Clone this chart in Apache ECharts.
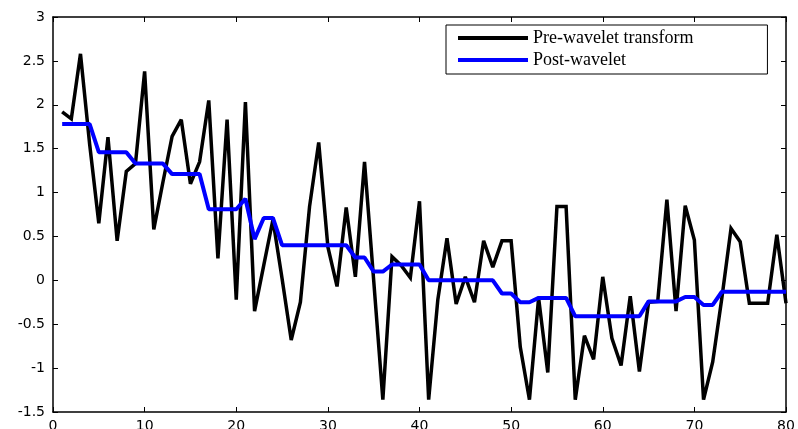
<!DOCTYPE html>
<html>
<head>
<meta charset="utf-8">
<script src="https://cdn.jsdelivr.net/npm/echarts@6/dist/echarts.min.js"></script>
<style>
html,body{margin:0;padding:0;background:#fff;}
#chart{width:798px;height:429px;}
</style>
</head>
<body>
<div id="chart"></div>
<script>
var xValues = [1,2,3,4,5,6,7,8,9,10,11,12,13,14,15,16,17,18,19,20,
  21,22,23,24,25,26,27,28,29,30,31,32,33,34,35,36,37,38,39,40,
  41,42,43,44,45,46,47,48,49,50,51,52,53,54,55,56,57,58,59,60,
  61,62,63,64,65,66,67,68,69,70,71,72,73,74,75,76,77,78,79,80];

var preWavelet = [1.92,1.84,2.58,1.55,0.65,1.63,0.45,1.24,1.33,2.38,
  0.58,1.12,1.64,1.83,1.10,1.35,2.05,0.25,1.83,-0.22,
  2.03,-0.35,0.17,0.69,0.02,-0.68,-0.25,0.84,1.57,0.38,
  -0.07,0.83,0.04,1.35,0.00,-1.36,0.27,0.17,0.03,0.90,
  -1.36,-0.22,0.48,-0.27,0.04,-0.25,0.45,0.15,0.45,0.45,
  -0.76,-1.36,-0.20,-1.05,0.84,0.84,-1.36,-0.63,-0.90,0.04,
  -0.66,-0.97,-0.18,-1.04,-0.25,-0.24,0.92,-0.35,0.85,0.46,
  -1.36,-0.93,-0.20,0.59,0.44,-0.26,-0.26,-0.26,0.52,-0.26];

var postWavelet = [1.78,1.78,1.78,1.78,1.46,1.46,1.46,1.46,1.33,1.33,
  1.33,1.33,1.21,1.21,1.21,1.21,0.81,0.81,0.81,0.81,
  0.93,0.47,0.71,0.71,0.40,0.40,0.40,0.40,0.40,0.40,
  0.40,0.40,0.26,0.26,0.10,0.10,0.18,0.18,0.18,0.18,
  0.00,0.00,0.00,0.00,0.00,0.00,0.00,0.00,-0.15,-0.15,
  -0.25,-0.25,-0.20,-0.20,-0.20,-0.20,-0.41,-0.41,-0.41,-0.41,
  -0.41,-0.41,-0.41,-0.41,-0.24,-0.24,-0.24,-0.24,-0.19,-0.19,
  -0.28,-0.28,-0.13,-0.13,-0.13,-0.13,-0.13,-0.13,-0.13,-0.13];

var seriesNames = ['Pre-wavelet transform', 'Post-wavelet'];

function pairs(ys) { return xValues.map(function (x, i) { return [x, ys[i]]; }); }

var axisFont = { fontFamily: 'DejaVu Sans', fontSize: 14, color: '#000' };
var axisLine = { show: true, onZero: false, lineStyle: { color: '#000', width: 1.5 } };
var tick = { show: true, inside: true, length: 5, lineStyle: { color: '#000', width: 1 } };

var chart = echarts.init(document.getElementById('chart'), null, { renderer: 'canvas' });
chart.setOption({
  animation: false,
  backgroundColor: '#fff',
  grid: { left: 53, right: 12, top: 17, bottom: 17, containLabel: false, outerBoundsMode: 'none' },
  legend: {
    left: 446, top: 25,
    orient: 'vertical',
    backgroundColor: '#fff',
    borderColor: '#000', borderWidth: 1, borderRadius: 0,
    padding: [4, 74, 5, 12],
    itemGap: 4,
    itemWidth: 70, itemHeight: 4,
    icon: 'rect',
    textStyle: { fontFamily: 'Liberation Serif', fontSize: 18, color: '#000', lineHeight: 18 },
    data: seriesNames
  },
  xAxis: [{
    type: 'value', min: 0, max: 80, interval: 10, position: 'bottom',
    axisLine: axisLine, axisTick: tick,
    axisLabel: Object.assign({ margin: 7 }, axisFont),
    splitLine: { show: false }
  }, {
    type: 'value', min: 0, max: 80, interval: 10, position: 'top',
    axisLine: axisLine, axisTick: tick, axisLabel: { show: false },
    splitLine: { show: false }
  }],
  yAxis: [{
    type: 'value', min: -1.5, max: 3, interval: 0.5, position: 'left',
    axisLine: axisLine, axisTick: tick,
    axisLabel: Object.assign({ margin: 8 }, axisFont),
    splitLine: { show: false }
  }, {
    type: 'value', min: -1.5, max: 3, interval: 0.5, position: 'right',
    axisLine: axisLine, axisTick: tick, axisLabel: { show: false },
    splitLine: { show: false }
  }],
  series: [{
    name: seriesNames[0], type: 'line', data: pairs(preWavelet),
    showSymbol: false, symbol: 'none',
    lineStyle: { color: '#000', width: 3.5, join: 'miter', miterLimit: 3 },
    itemStyle: { color: '#000' }
  }, {
    name: seriesNames[1], type: 'line', data: pairs(postWavelet),
    showSymbol: false, symbol: 'none',
    lineStyle: { color: '#0000ff', width: 4 },
    itemStyle: { color: '#0000ff' }
  }]
});
</script>
</body>
</html>
